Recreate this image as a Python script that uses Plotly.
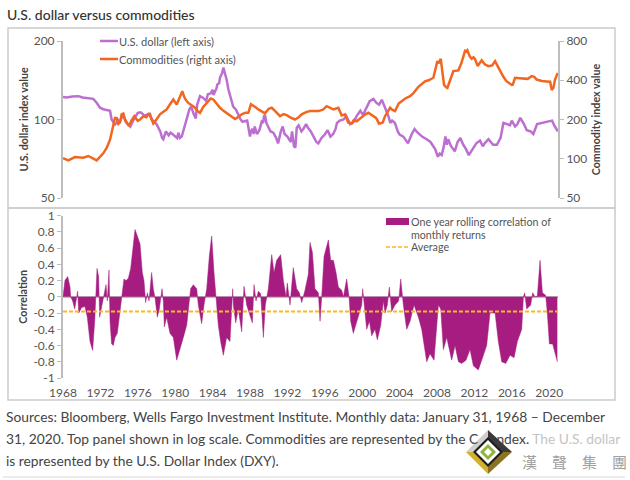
"""
U.S. dollar versus commodities: log-scale top panel with both indexes,
rolling correlation area below.
"""
import plotly.graph_objects as go
from plotly.subplots import make_subplots

FONT = 'Lato'
GREY = '#555555'
AXIS = '#BDBDBD'
USD_COLOR = '#BC6FD0'
COMM_COLOR = '#F2661F'
CORR_COLOR = '#A61C80'
AVG_COLOR = '#F7B924'

usd_t = [1968.0, 1969.0, 1969.64, 1970.5, 1971.24, 1971.6, 1971.96, 1972.3, 1972.67, 1973.03, 1973.2, 1973.56, 1973.9,
         1974.27, 1974.7, 1975.0, 1975.5, 1976.0, 1976.5, 1977.0, 1977.5, 1978.0, 1978.4, 1978.73, 1979.0, 1979.3, 1979.7,
         1980.0, 1980.35, 1980.7, 1981.0, 1981.25, 1981.5, 1982.0, 1982.35, 1982.65, 1983.0, 1983.5, 1984.0, 1984.25,
         1984.5, 1984.8, 1985.0, 1985.15, 1985.5, 1986.0, 1986.5, 1987.0, 1987.5, 1988.0, 1988.25, 1988.5, 1988.75, 1989.0,
         1989.25, 1989.5, 1989.75, 1990.0, 1990.5, 1991.0, 1991.15, 1991.5, 1992.0, 1992.35, 1992.7, 1993.0, 1993.5, 1994.0,
         1994.5, 1995.3, 1995.65, 1996.0, 1996.9, 1997.3, 1998.0, 1998.7, 1999.4, 2000.3, 2000.8, 2001.5, 2002.1, 2002.8,
         2003.5, 2004.0, 2004.9, 2005.8, 2006.9, 2008.1, 2008.5, 2008.9, 2009.2, 2009.9, 2010.5, 2011.4, 2012.2, 2013.1,
         2014.4, 2015.1, 2016.0, 2016.35, 2016.9, 2018.0, 2018.7, 2019.7, 2020.3, 2020.92]
usd_values = [122, 122.5, 122.9, 121, 120, 116, 111, 109.5, 109, 108, 100, 95.7, 99, 101.5, 98, 95.7, 99, 106, 105, 104.5,
              100, 96, 90, 84, 90, 87, 88, 86, 89, 86, 93, 101, 109, 104.5, 114, 123, 121, 125, 130, 128, 136, 145, 150,
              158, 142, 119, 109, 100, 98.5, 86, 92, 94, 88, 91, 98, 103, 97, 93, 89, 81, 86, 94, 86, 82, 79, 93, 90, 96,
              90, 81, 85, 87.6, 88, 97, 100, 96, 103, 108, 117.6, 116, 119, 103, 97, 87.6, 81, 90, 84, 72, 73, 86, 84,
              75.5, 85, 73, 81, 81, 80, 97, 99, 94, 101.5, 90, 96, 98, 99, 90]
# Smaller swings
usd_detail_t = [1968.4, 1970.1, 1974.0, 1974.5, 1975.2, 1975.8, 1976.3, 1976.8, 1977.3, 1978.6, 1979.5, 1980.2, 1980.5,
                1981.7, 1982.2, 1982.5, 1983.3, 1983.8, 1984.1, 1984.4, 1984.7, 1985.3, 1985.7, 1986.2, 1986.7, 1987.2,
                1987.7, 1988.1, 1988.4, 1989.1, 1989.4, 1989.6, 1990.2, 1990.8, 1991.3, 1991.7, 1992.2, 1992.5, 1992.85,
                1993.2, 1993.7, 1994.2, 1994.8, 1995.1, 1996.3, 1996.6, 1997.15, 1997.6, 1998.3, 1998.5, 1999.1, 1999.8,
                2000.1, 2000.6, 2001.2, 2001.8, 2002.4, 2003.0, 2003.2, 2003.8, 2004.4, 2004.7, 2005.3, 2005.6, 2006.4,
                2007.3, 2007.8, 2008.3, 2008.7, 2009.05, 2009.5, 2010.2, 2010.8, 2011.1, 2011.7, 2012.6, 2012.9, 2013.5,
                2014.0, 2014.8, 2015.5, 2015.8, 2016.6, 2017.3, 2017.6, 2018.3, 2019.2, 2020.0, 2020.6]
usd_detail_values = [121.5, 121.5, 97, 103, 94, 103, 106.5, 103, 105, 85, 89, 85, 85, 112, 101, 118, 118, 126, 124, 131,
                     138, 152, 130, 112, 105, 98, 99, 90, 88, 95, 97, 104, 90, 85, 90, 88, 83, 90, 78, 95, 92, 93, 86, 82,
                     91, 86, 92, 99, 103, 99, 98, 108, 104, 113, 120, 114, 112, 97, 99, 90, 86, 83, 88, 92, 86, 82, 77, 74,
                     78, 80, 79, 82, 80, 77, 76, 83, 79, 84, 80, 85, 96, 95, 96, 96, 91, 88, 97, 99, 94]

comm_t = [1968.0, 1968.57, 1969.28, 1970.17, 1970.71, 1971.6, 1972.31, 1972.67, 1973.03, 1973.38, 1973.56, 1973.92, 1974.27,
          1974.63, 1975.06, 1975.63, 1976.24, 1977.2, 1977.66, 1978.37, 1979.09, 1979.8, 1980.16, 1980.76, 1981.4, 1982.12,
          1982.65, 1983.54, 1984.08, 1984.79, 1985.68, 1986.4, 1987.11, 1987.82, 1988.36, 1988.89, 1989.6, 1990.32, 1991.21,
          1991.92, 1992.81, 1993.53, 1994.42, 1995.31, 1996.2, 1996.92, 1997.45, 1998.16, 1998.88, 1999.41, 2000.66, 2001.19,
          2001.8, 2002.44, 2002.98, 2003.51, 2004.22, 2005.12, 2006.01, 2006.72, 2007.61, 2008.04, 2008.4, 2008.75, 2009.11,
          2009.75, 2010.28, 2010.99, 2011.24, 2011.71, 2012.07, 2012.35, 2012.78, 2013.49, 2014.21, 2015.1, 2015.99, 2016.35,
          2017.24, 2018.13, 2018.66, 2019.73, 2020.27, 2020.62, 2020.91]
comm_values = [101, 97, 103, 102, 105, 97, 110, 121, 140, 178, 206, 185, 219, 200, 178, 212, 200, 223, 186, 219, 239, 285,
               261, 330, 268, 246, 225, 276, 285, 246, 219, 202, 219, 225, 256, 239, 223, 246, 212, 216, 200, 219, 232, 232,
               253, 239, 246, 219, 186, 194, 225, 212, 186, 212, 246, 232, 276, 302, 356, 392, 418, 561, 584, 370, 349, 470,
               476, 670, 682, 585, 580, 513, 568, 513, 561, 425, 368, 418, 410, 430, 405, 392, 336, 405, 455]
comm_detail_t = [1973.2, 1973.75, 1974.1, 1974.45, 1974.85, 1975.3, 1976.0, 1976.6, 1976.9, 1977.45, 1978.0, 1978.7, 1979.5,
                 1980.4, 1980.95, 1981.1, 1981.75, 1982.4, 1983.0, 1983.8, 1984.4, 1985.2, 1986.0, 1986.7, 1987.5, 1988.1,
                 1988.6, 1989.2, 1990.0, 1990.7, 1991.6, 1992.3, 1993.2, 1994.0, 1995.8, 1996.6, 1997.8, 1998.5, 1999.1,
                 2000.0, 2000.3, 2001.5, 2002.2, 2002.7, 2003.2, 2003.9, 2004.6, 2005.5, 2006.3, 2007.1, 2008.2, 2008.55,
                 2008.95, 2009.4, 2010.6, 2011.05, 2011.5, 2011.9, 2012.55, 2013.1, 2013.9, 2014.6, 2014.9, 2015.4, 2015.8,
                 2016.1, 2016.8, 2017.7, 2018.4, 2019.2, 2020.1, 2020.45]
comm_detail_values = [162, 205, 190, 222, 188, 195, 195, 212, 208, 205, 200, 228, 265, 290, 300, 285, 255, 232, 250, 290,
                      265, 232, 212, 208, 225, 262, 248, 232, 242, 232, 220, 208, 208, 228, 238, 246, 215, 190, 198, 210,
                      218, 205, 190, 230, 238, 265, 290, 320, 372, 400, 540, 480, 355, 400, 540, 665, 610, 600, 540, 530,
                      520, 495, 450, 395, 375, 370, 415, 410, 425, 395, 390, 350]

corr_t = [1968.0, 1968.21, 1968.5, 1968.75, 1968.82, 1969.03, 1969.25, 1969.39, 1969.57, 1969.68, 1970.0, 1970.35, 1970.6,
          1970.89, 1971.17, 1971.39, 1971.53, 1971.64, 1971.81, 1971.92, 1972.14, 1972.42, 1972.6, 1972.74, 1972.92, 1973.03,
          1973.2, 1973.38, 1973.56, 1973.81, 1974.03, 1974.27, 1974.52, 1974.74, 1974.99, 1975.24, 1975.45, 1975.7, 1975.95,
          1976.24, 1976.48, 1976.66, 1976.84, 1977.02, 1977.2, 1977.48, 1977.66, 1977.84, 1978.09, 1978.3, 1978.59, 1978.73,
          1978.84, 1979.09, 1979.44, 1979.8, 1980.16, 1980.51, 1980.87, 1981.23, 1981.48, 1981.65, 1981.94, 1982.3, 1982.47,
          1982.83, 1983.08, 1983.37, 1983.65, 1983.9, 1984.15, 1984.36, 1984.61, 1984.86, 1985.15, 1985.5, 1985.86, 1986.15,
          1986.22, 1986.47, 1986.75, 1987.11, 1987.36, 1987.64, 1988.0, 1988.25, 1988.43, 1988.64, 1988.89, 1989.14, 1989.43,
          1989.64, 1989.96, 1990.32, 1990.57, 1990.85, 1991.28, 1991.57, 1991.85, 1991.99, 1992.28, 1992.63, 1992.99, 1993.28,
          1993.53, 1993.88, 1994.24, 1994.42, 1994.67, 1994.95, 1995.31, 1995.49,
          1995.67, 1995.92, 1996.38, 1996.63, 1996.92, 1997.2, 1997.45, 1997.81, 1997.99, 1998.34, 1998.59, 1998.77, 1999.05,
          1999.41, 1999.95, 2000.05, 2000.2, 2000.48, 2000.77, 2001.02, 2001.37, 2001.62, 2001.98, 2002.26, 2002.44, 2002.69,
          2002.9, 2003.15, 2003.51, 2003.9, 2004.12, 2004.4, 2004.76, 2005.12, 2005.54, 2006.01, 2006.36, 2006.9, 2007.25,
          2007.68, 2008.15, 2008.4, 2008.68, 2009.04, 2009.57, 2009.93, 2010.29, 2010.64, 2011.1, 2011.53, 2011.89, 2012.42,
          2012.96, 2013.31, 2013.67, 2014.21, 2014.56, 2014.92, 2015.35, 2015.81, 2016.24, 2016.59, 2017.06, 2017.24, 2017.38,
          2017.59, 2018.02, 2018.23, 2018.48, 2018.73, 2019.02, 2019.27, 2019.62, 2019.8, 2020.02, 2020.37, 2020.87]
corr_values = [0, 0.2, 0.25, 0.12, 0, -0.05, -0.15, -0.05, 0.07, -0.2, -0.13, -0.12, -0.25, -0.55, -0.66, -0.3, 0, 0.35,
               0.25, -0.25, -0.12, 0.05, 0.15, -0.05, 0.33, -0.3, -0.58, -0.6, -0.5, -0.45, -0.25, -0.02, 0.22, 0.2, 0.23,
               0.35, 0.6, 0.83, 0.75, 0.65, 0.3, 0.2, -0.07, 0.05, -0.05, 0.3, 0.1, -0.01, -0.25, -0.15, 0.1, -0.05, -0.37,
               -0.25, -0.45, -0.5, -0.78, -0.65, -0.5, -0.35, -0.05, 0.1, 0.15, 0.1, -0.1, -0.33, -0.1, 0.1, 0.5, 0.75, 0.3,
               0, -0.35, -0.55, -0.72, -0.5, -0.55, 0.1, -0.1, -0.32, -0.15, -0.43, 0.13, -0.1, -0.25, -0.32, 0.15, -0.05,
               0.07, 0.04, -0.5, -0.1, 0.1, 0.52, 0.3, 0.45, 0.52, 0.2, 0, 0.17, -0.1, 0.36, 0.1, 0.05, -0.07, 0.08, 0.28,
               0.67, 0.55, 0.1, 0.05, -0.3,
               0, 0.5, 0.7, 0.45, 0.45, 0.3, 0.12, 0.08, 0, 0.22, 0, -0.3, -0.45, -0.3, -0.1, 0.1, -0.05, -0.4, -0.3, -0.48,
               -0.4, -0.53, -0.35, -0.05, -0.2, -0.1, 0.12, -0.18, -0.1, -0.05, 0.22, -0.1, -0.4, -0.3, -0.1, -0.25, -0.4,
               -0.8, -0.7, -0.78, -0.1, -0.15, -0.65, -0.5, -0.78, -0.6, -0.8, -0.82, -0.78, -0.65, -0.85, -0.9, -0.72, -0.6,
               -0.2, -0.2, -0.55, -0.8, -0.82, -0.72, -0.75, -0.55, -0.4, 0, 0.05, -0.15, -0.1, 0.05, 0, 0.01, 0.45, 0.05,
               0.02, -0.2, -0.58, -0.58, -0.8]
avg_t = [1968.0, 2020.94]
avg_values = [-0.18, -0.18]

year_ticks = list(range(1968, 2024, 4))
left_ticks = [50, 100, 200]
right_ticks = [50, 100, 200, 400, 800]
corr_ticks = [1, 0.8, 0.6, 0.4, 0.2, 0, -0.2, -0.4, -0.6, -0.8, -1]

HIDDEN = '<span style="color:rgba(255,255,255,0)">{}</span>'
FADED = '<span style="color:#C4C4C4">{}</span>'
source_lines = [
    'Sources: Bloomberg, Wells Fargo Investment Institute. Monthly data: January 31, 1968 – December',
    '31, 2020. Top panel shown in log scale. Commodities are represented by the C' + HIDDEN.format('O I') + 'ndex. '
    + FADED.format('The U.S. dollar'),
    'is represented by the U.S. Dollar Index (DXY).',
]


def merge(t_main, v_main, t_detail, v_detail):
    pairs = sorted(zip(t_main + t_detail, v_main + v_detail))
    return [p[0] for p in pairs], [p[1] for p in pairs]


def px_x(x):
    return x / 630


def px_y(y):
    return 1 - y / 480


def legend_text(x, y, text, size=11.1):
    fig.add_annotation(xref='paper', yref='paper', x=px_x(x), y=px_y(y), xanchor='left', yanchor='middle',
                       text=text, showarrow=False, font=dict(size=size, color=GREY))


def legend_line(x0, x1, y, color, width, dash='solid'):
    fig.add_shape(type='line', xref='paper', yref='paper', x0=px_x(x0), x1=px_x(x1), y0=px_y(y), y1=px_y(y),
                  line=dict(color=color, width=width, dash=dash))


def logo_poly(points, color):
    """Filled polygon for the corner logo, points in page pixels."""
    path = 'M ' + ' L '.join(f'{px_x(x):.5f},{px_y(y):.5f}' for x, y in points) + ' Z'
    fig.add_shape(type='path', xref='paper', yref='paper', path=path, fillcolor=color, line=dict(width=0))


def logo_diamond(cx, cy, half, color):
    logo_poly([(cx, cy - half), (cx + half, cy), (cx, cy + half), (cx - half, cy)], color)


fig = make_subplots(rows=2, cols=1, specs=[[{'secondary_y': True}], [{}]])

usd_x, usd_y = merge(usd_t, usd_values, usd_detail_t, usd_detail_values)
comm_x, comm_y = merge(comm_t, comm_values, comm_detail_t, comm_detail_values)

fig.add_trace(go.Scatter(x=usd_x, y=usd_y, mode='lines', name='U.S. dollar (left axis)',
                         line=dict(color=USD_COLOR, width=2.5)), row=1, col=1, secondary_y=False)
fig.add_trace(go.Scatter(x=comm_x, y=comm_y, mode='lines', name='Commodities (right axis)',
                         line=dict(color=COMM_COLOR, width=2.5)), row=1, col=1, secondary_y=True)
fig.add_trace(go.Scatter(x=corr_t, y=corr_values, mode='lines', fill='tozeroy', fillcolor=CORR_COLOR,
                         name='One year rolling correlation of monthly returns',
                         line=dict(color=CORR_COLOR, width=0.5)), row=2, col=1)
fig.add_trace(go.Scatter(x=avg_t, y=avg_values, mode='lines', name='Average',
                         line=dict(color=AVG_COLOR, width=2, dash='4px,2px')), row=2, col=1)

fig.update_layout(
    width=630, height=480,
    margin=dict(t=0, b=0, l=0, r=0),
    paper_bgcolor='white', plot_bgcolor='white',
    font=dict(family=FONT, size=12, color=GREY),
    showlegend=False,
)

# Panel geometry is fixed to the reference, so the domains are set by hand
fig.update_xaxes(domain=[63 / 630, 558 / 630], range=[1968, 2020.94], showgrid=False, zeroline=False, showline=False,
                 automargin=False)
fig.update_xaxes(showticklabels=False, ticks='', row=1, col=1)
# Invisible ticks just push the year labels down
fig.update_xaxes(tickmode='array', tickvals=year_ticks, ticktext=[str(y) for y in year_ticks], ticks='outside',
                 ticklen=4, tickcolor='rgba(0,0,0,0)', tickfont=dict(size=12), row=2, col=1)
fig.update_yaxes(automargin=False)
fig.update_yaxes(domain=[1 - 198 / 480, 1 - 41 / 480], row=1, col=1)
fig.update_yaxes(domain=[1 - 378 / 480, 1 - 215.7 / 480], row=2, col=1)

fig.update_yaxes(type='log', range=[1.69897, 2.30103], tickmode='array', tickvals=left_ticks,
                 ticktext=[str(v) for v in left_ticks], showgrid=False, zeroline=False, showline=True,
                 linecolor=AXIS, linewidth=2, ticks='outside', ticklen=4, tickcolor=AXIS,
                 title=dict(text='<b>U.S. dollar index value</b>', font=dict(size=10.7, color='#444444'), standoff=3),
                 row=1, col=1, secondary_y=False)
fig.update_yaxes(type='log', range=[1.69897, 2.90309], tickmode='array', tickvals=right_ticks,
                 ticktext=[str(v) for v in right_ticks], showgrid=False, zeroline=False, showline=True,
                 linecolor=AXIS, linewidth=2, ticks='outside', ticklen=4, tickcolor=AXIS,
                 title=dict(text='<b>Commodity index value</b>', font=dict(size=10.7, color='#444444'), standoff=6),
                 row=1, col=1, secondary_y=True)
fig.update_yaxes(range=[-1, 1], tickmode='array', tickvals=corr_ticks, ticktext=[str(v) for v in corr_ticks],
                 showgrid=False, zeroline=True, zerolinecolor=AXIS, zerolinewidth=1.5, showline=True,
                 linecolor=AXIS, linewidth=2, ticks='outside', ticklen=4, tickcolor=AXIS,
                 title=dict(text='<b>Correlation</b>', font=dict(size=10.7, color='#444444'), standoff=4),
                 row=2, col=1)

# Panel frames
for y0, y1 in [(28, 208), (208, 400)]:
    fig.add_shape(type='rect', xref='paper', yref='paper', x0=px_x(8), x1=px_x(615), y0=px_y(y1), y1=px_y(y0),
                  line=dict(color='#CCCCCC', width=1.5), layer='below')
fig.add_shape(type='line', xref='paper', yref='paper', x0=px_x(3), x1=px_x(625), y0=px_y(477), y1=px_y(477),
              line=dict(color='#E4E4E4', width=1.5))

# Legends drawn by hand: the native line swatch cannot go below 30 px
legend_line(100, 118, 41, USD_COLOR, 2.5)
legend_text(117, 41, 'U.S. dollar (left axis)')
legend_line(100, 118, 59, COMM_COLOR, 2.5)
legend_text(117, 59, 'Commodities (right axis)')
fig.add_shape(type='rect', xref='paper', yref='paper', x0=px_x(386), x1=px_x(409), y0=px_y(225), y1=px_y(218),
              fillcolor=CORR_COLOR, line=dict(width=0))
legend_text(409, 221, 'One year rolling correlation of', 10.7)
legend_text(409, 235, 'monthly returns', 10.7)
legend_line(386, 409, 247, AVG_COLOR, 1.5, '4px,2px')
legend_text(409, 247, 'Average', 10.7)

fig.add_annotation(xref='paper', yref='paper', x=px_x(5), y=px_y(14), xanchor='left', yanchor='middle',
                   text='U.S. dollar versus commodities', showarrow=False,
                   font=dict(size=14, color='#333333', weight=500))

for line, y in zip(source_lines, [416, 438, 460]):
    fig.add_annotation(xref='paper', yref='paper', x=px_x(4), y=px_y(y), xanchor='left', yanchor='middle',
                       text=line, showarrow=False, font=dict(size=13.8, color='#444444'))

# Corner logo and its caption
logo_cx, logo_cy = 488, 452
logo_poly([(488, 430), (466, 452), (488, 452)], '#CFCFCF')
logo_poly([(488, 430), (512, 452), (488, 452)], '#3A3A3A')
logo_poly([(466, 452), (488, 474), (488, 452)], '#D4B12A')
logo_poly([(512, 452), (488, 474), (488, 452)], '#8A7420')
logo_diamond(logo_cx, logo_cy, 15, '#1E1E1E')
logo_diamond(logo_cx, logo_cy, 12, '#FFFFFF')
logo_diamond(logo_cx, logo_cy, 8, '#8DB53C')
logo_diamond(logo_cx, logo_cy, 4, '#FFFFFF')
fig.add_annotation(xref='paper', yref='paper', x=px_x(574), y=px_y(461), xanchor='center', yanchor='middle',
                   text='漢　聲　集　團', showarrow=False,
                   font=dict(family='Noto Sans CJK TC', size=15, color='#A0A0A0'))

# Drop the page's default body margin so the figure sits at the window corner
fig.write_html("out.html", config=dict(displayModeBar=False), post_script="document.body.style.margin='0';")
